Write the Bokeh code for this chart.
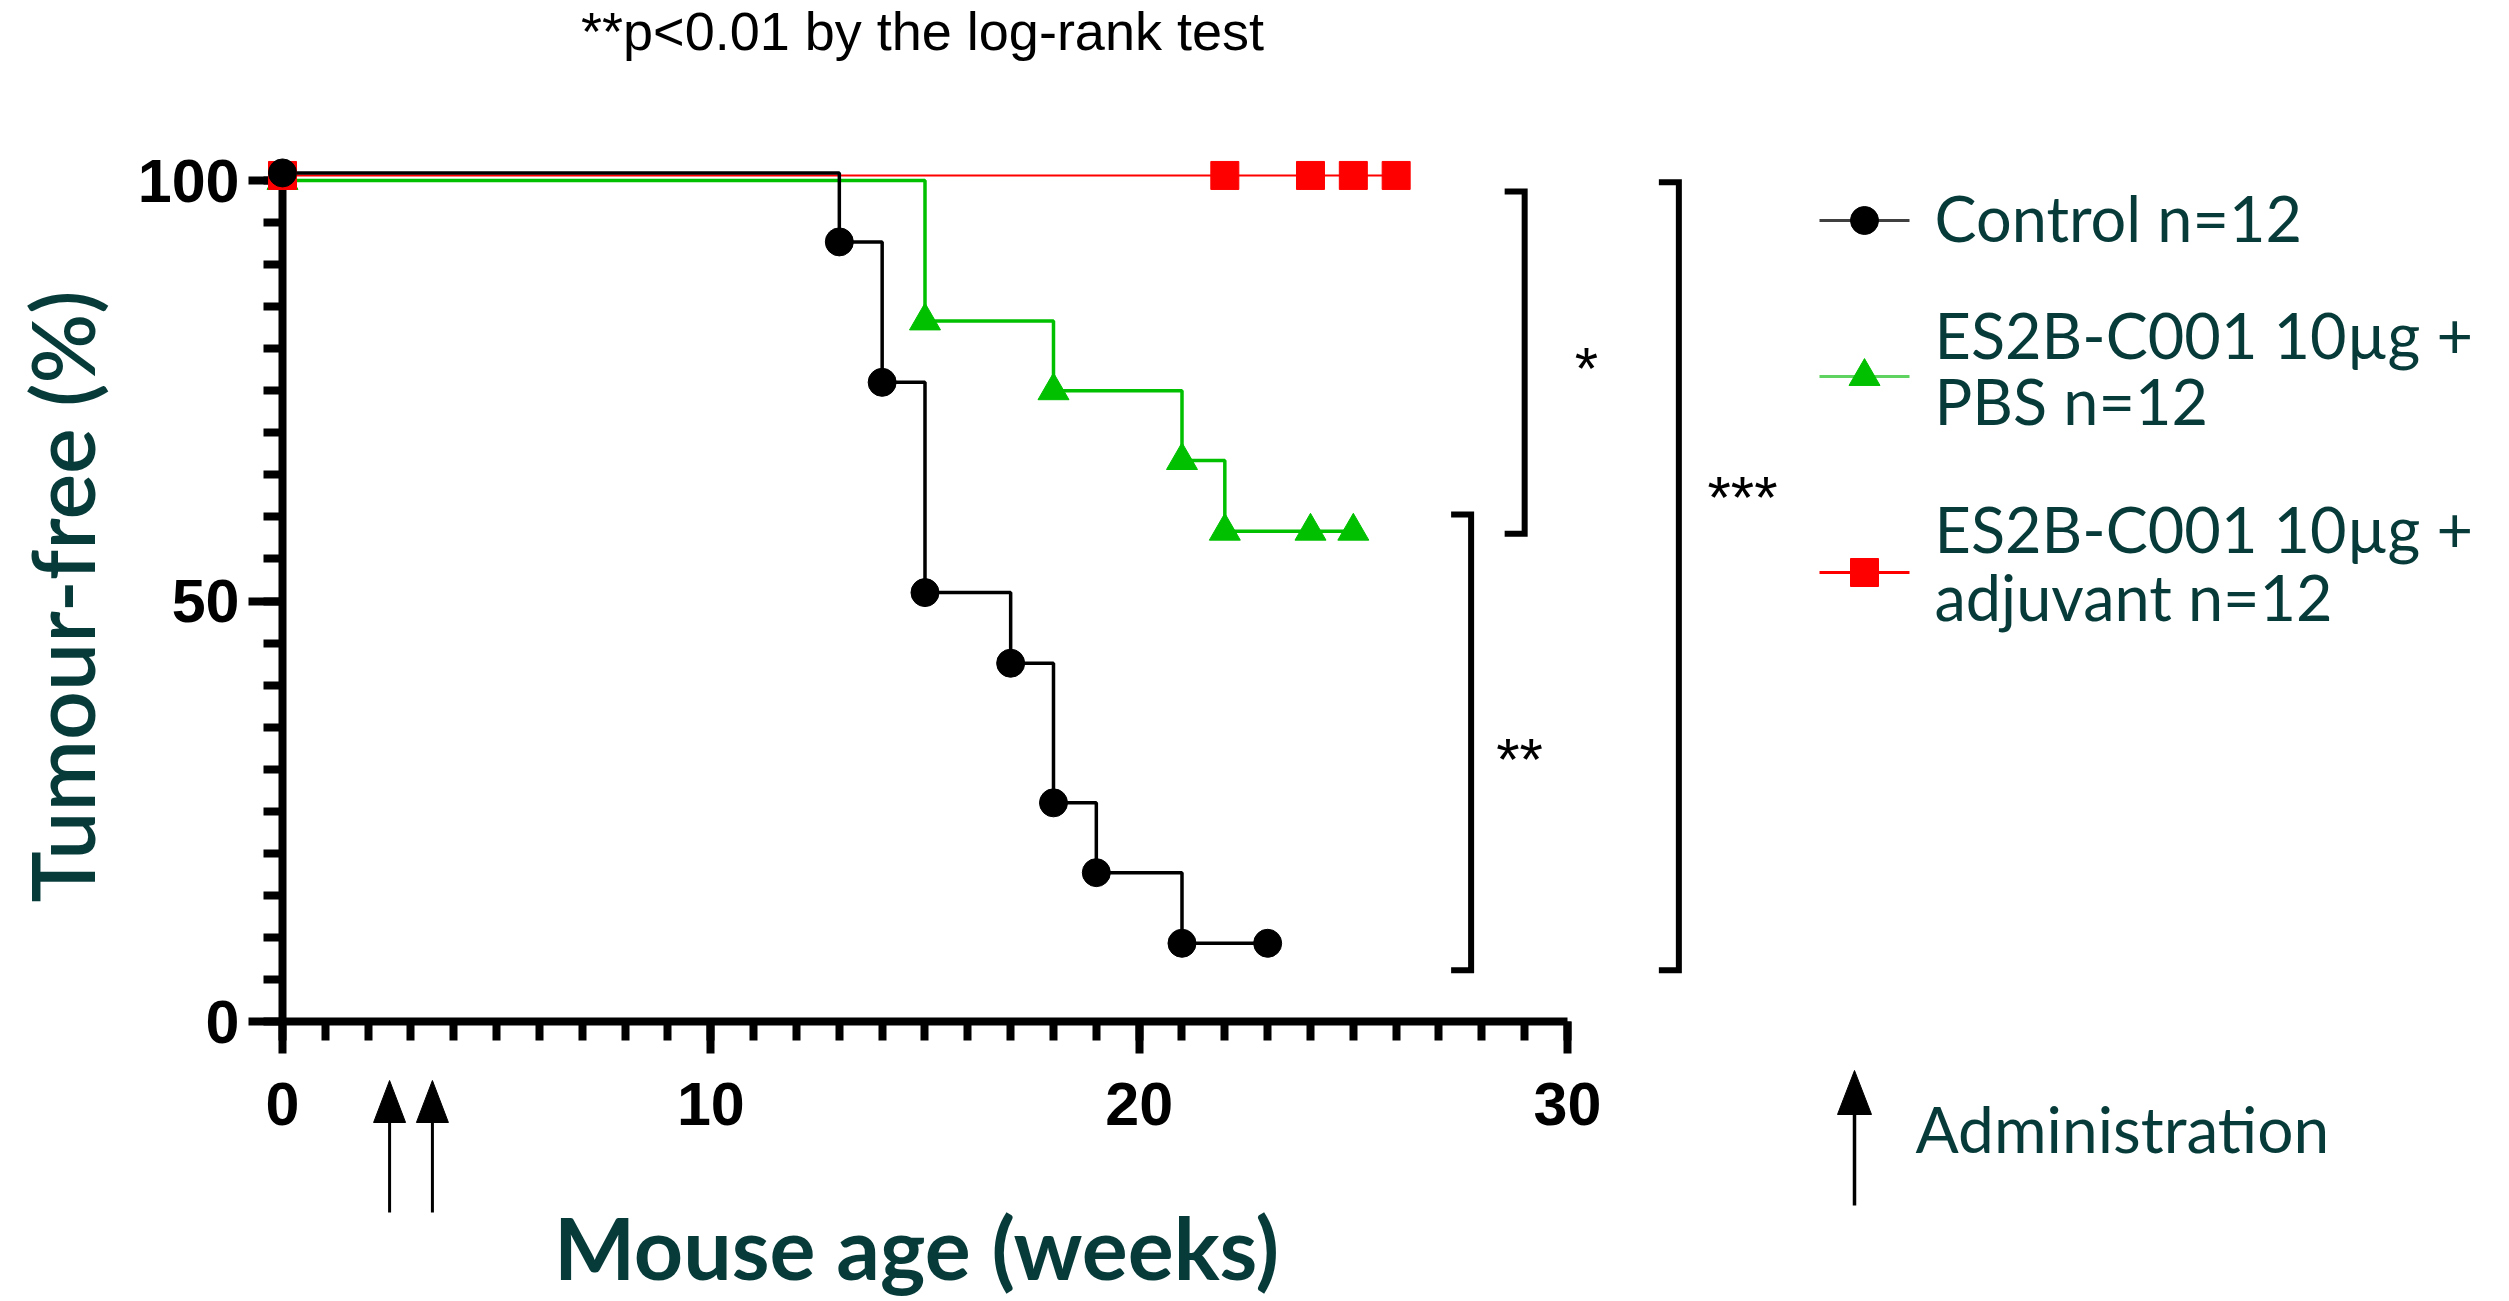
from math import pi
from bokeh.plotting import figure
from bokeh.models import Range1d, FixedTicker
from bokeh.core.properties import value
from bokeh.embed import file_html
from bokeh.resources import INLINE

# ---------------- data ----------------
control_weeks = [0, 13, 14, 15, 17, 18, 19, 21, 23]
control_pct = [100.9, 92.7, 76.0, 51.0, 42.6, 26.0, 17.7, 9.3, 9.3]
pbs_weeks = [0, 15, 18, 21, 22, 24, 25]
pbs_pct = [100.0, 83.3, 75.0, 66.7, 58.3, 58.3, 58.3]
adj_weeks = [0, 22, 24, 25, 26]
adj_pct = [100.6, 100.6, 100.6, 100.6, 100.6]
admin_weeks = [2.5, 3.5]

x_major = [0, 10, 20, 30]
x_minor = list(range(0, 31))
y_major = [0, 50, 100]
y_minor = list(range(0, 101, 5))

series_labels = [["Control n=12"],
                 ["ES2B-C001 10µg +", "PBS n=12"],
                 ["ES2B-C001 10µg +", "adjuvant n=12"]]

bracket_x = [29.0, 27.75, 32.6]
bracket_top = [98.7, 60.3, 99.8]
bracket_bottom = [58.0, 6.1, 6.1]
bracket_marks = ["*", "**", "***"]

title_text = "**p<0.01 by the log-rank test"
x_title = "Mouse age (weeks)"
y_title = "Tumour-free (%)"
admin_text = "Administration"

# ---------------- layout helpers (reference pixel -> data) ----------------
X0, XS = 282.0, 42.833   # pixel of week 0, pixels per week
Y0, YS = 1021.0, 8.41    # pixel of 0 %, pixels per %
def dx(px): return (px - X0) / XS
def dy(py): return (Y0 - py) / YS
def wx(n): return n / XS
C = 0.42                 # baseline correction (em)
def by(py, size): return dy(py - C * size)

W, H = 2500, 1300
TEAL = "#073b3a"
GREEN = "#00c000"
RED = "#ff0000"

p = figure(width=W, height=H,
           x_range=Range1d(dx(0), dx(W)),
           y_range=Range1d(dy(H), dy(0)),
           output_backend="svg", toolbar_location=None, min_border=0)
p.outline_line_color = None
p.grid.visible = False
p.background_fill_color = "white"
p.border_fill_color = "white"

xa = p.xaxis[0]
ya = p.yaxis[0]
xa.fixed_location = 0
ya.fixed_location = 0
xa.bounds = (0, 30)
ya.bounds = (0, 100)
xa.ticker = FixedTicker(ticks=x_major, minor_ticks=x_minor)
ya.ticker = FixedTicker(ticks=y_major, minor_ticks=y_minor)
for ax in (xa, ya):
    ax.axis_line_width = 8
    ax.axis_line_color = "black"
    ax.major_tick_line_width = 8
    ax.minor_tick_line_width = 8
    ax.major_tick_line_color = "black"
    ax.minor_tick_line_color = "black"
    ax.major_tick_in = 0
    ax.minor_tick_in = 0
    ax.major_label_text_font = "Liberation Sans"
    ax.major_label_text_font_style = "bold"
    ax.major_label_text_font_size = "61px"
    ax.major_label_text_color = "black"
xa.major_tick_out = 32
xa.minor_tick_out = 19
ya.major_tick_out = 34
ya.minor_tick_out = 19
xa.major_label_standoff = 29
ya.major_label_standoff = 9

# ---------------- survival curves ----------------
p.step(pbs_weeks, pbs_pct, mode="after", line_color=GREEN, line_width=3.5)
p.step(adj_weeks, adj_pct, mode="after", line_color=RED, line_width=2)
p.step(control_weeks, control_pct, mode="after", line_color="black", line_width=3.5)

p.scatter(pbs_weeks, pbs_pct, marker="triangle", size=31,
          fill_color=GREEN, line_color=GREEN, level="overlay")
p.scatter(adj_weeks, adj_pct, marker="square", size=28,
          fill_color=RED, line_color=RED, level="overlay")
p.scatter(control_weeks, control_pct, marker="circle", size=28,
          fill_color="black", line_color="black", level="overlay")

# ---------------- significance brackets ----------------
stub = wx(20)
p.multi_line(xs=[[bx - stub, bx, bx, bx - stub] for bx in bracket_x],
             ys=[[t, t, b, b] for t, b in zip(bracket_top, bracket_bottom)],
             line_color="black", line_width=6, line_join="miter")
star_px = [1586, 1519, 1742]
star_py = [359, 750, 488]
p.text(x=[dx(v) for v in star_px], y=[by(v + 34, 60) for v in star_py], text=bracket_marks,
       text_font=value("Liberation Sans"), text_font_size="60px", text_color="black",
       text_align="center", text_baseline="alphabetic")

# ---------------- administration arrows ----------------
p.segment(x0=admin_weeks, y0=[dy(1122)] * len(admin_weeks),
          x1=admin_weeks, y1=[dy(1212)] * len(admin_weeks),
          line_color="black", line_width=3)
p.patches(xs=[[w - wx(16), w + wx(16), w] for w in admin_weeks],
          ys=[[dy(1122), dy(1122), dy(1080)] for _ in admin_weeks],
          fill_color="black", line_color="black", line_width=1)

# ---------------- legend ----------------
leg_y = [220, 376, 572]
leg_line = [("#404040", 3), ("#5fd35f", 3), (RED, 3)]
leg_mark = [("circle", 28, "black"), ("triangle", 31, GREEN), ("square", 28, RED)]
for (lc, lw), (mk, ms, mc), yy in zip(leg_line, leg_mark, leg_y):
    p.line([dx(1819), dx(1909)], [dy(yy), dy(yy)], line_color=lc, line_width=lw)
    p.scatter([dx(1864)], [dy(yy)], marker=mk, size=ms, fill_color=mc, line_color=mc)

leg_baselines = [[243], [360, 426], [554.5, 622]]
lt, ly = [], []
for lines, bls in zip(series_labels, leg_baselines):
    for t, b in zip(lines, bls):
        lt.append(t)
        ly.append(by(b, 63))
p.text(x=[dx(1934)] * len(lt), y=ly, text=lt, text_font=value("Lato"),
       text_font_size="63px", text_color=TEAL, text_align="left", text_baseline="alphabetic")

# administration key
p.segment(x0=[dx(1854)], y0=[dy(1114)], x1=[dx(1854)], y1=[dy(1205)],
          line_color="black", line_width=3.5)
p.patches(xs=[[dx(1854) - wx(17), dx(1854) + wx(17), dx(1854)]],
          ys=[[dy(1114), dy(1114), dy(1070)]],
          fill_color="black", line_color="black", line_width=1)
p.text(x=[dx(1915)], y=[by(1155, 64)], text=[admin_text], text_font=value("Lato"),
       text_font_size="64px", text_color=TEAL, text_align="left", text_baseline="alphabetic")

# ---------------- titles ----------------
p.text(x=[dx(922)], y=[by(53, 54)], text=[title_text],
       text_font=value("Liberation Sans"),
       text_font_size="54px", text_color="black", text_align="center", text_baseline="alphabetic")
p.text(x=[dx(916)], y=[by(1282, 86)], text=[x_title], text_font=value("Lato"),
       text_font_size="86px", text_font_style="bold", text_color=TEAL,
       text_align="center", text_baseline="alphabetic")
p.text(x=[dx(97 - C * 86)], y=[dy(596)], text=[y_title],
       text_font=value("Lato Semibold, Lato"),
       text_font_size="86px", text_color=TEAL, angle=pi / 2,
       text_align="center", text_baseline="alphabetic")

open("out.html", "w").write(file_html(p, INLINE))
